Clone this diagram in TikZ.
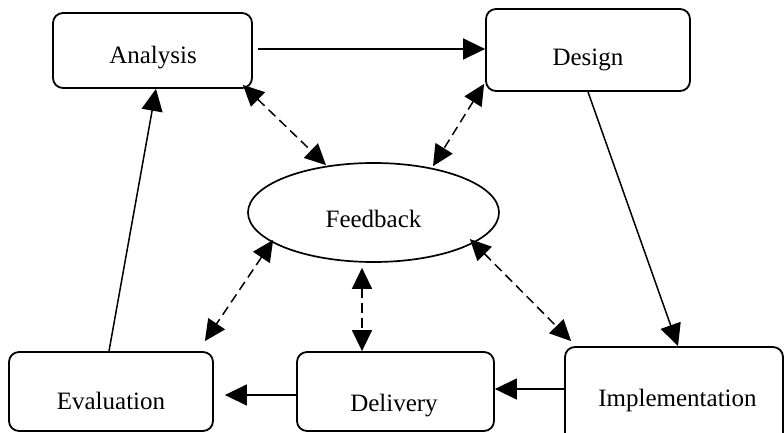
\documentclass[tikz,border=0pt]{standalone}
\usepackage{fontspec}
\setmainfont{Liberation Serif}
\usetikzlibrary{arrows.meta,shapes.geometric}
\begin{document}
\begin{tikzpicture}[x=1pt,y=-1pt,
  stagebox/.style={draw, line width=1.8pt, rounded corners=10pt, inner sep=0pt},
  fbshape/.style={draw, ellipse, line width=1.7pt, inner sep=0pt},
  lbl/.style={font=\fontsize{25}{30}\selectfont, inner sep=0pt, anchor=base},
  arr/.style={line width=1.5pt, -{Triangle[length=22pt,width=21pt]}},
  darr/.style={line width=1.5pt, dash pattern=on 9.5pt off 5.5pt, {Triangle[length=21pt,width=20pt]}-{Triangle[length=21pt,width=20pt]}}
]
\useasboundingbox (0,0) rectangle (784,433);
% boxes
\node[stagebox, minimum width=199pt, minimum height=75pt] (ana) at (152.5,50.5) {};
\node[stagebox, minimum width=204pt, minimum height=82pt] (des) at (588,50) {};
\node[fbshape, minimum width=251pt, minimum height=99pt] (fb) at (373.5,212.5) {};
\node[stagebox, minimum width=204pt, minimum height=79pt] (eva) at (111,391.5) {};
\node[stagebox, minimum width=197pt, minimum height=79pt] (del) at (395.5,391.5) {};
\node[stagebox, minimum width=218pt, minimum height=98pt] (imp) at (674,396) {};
% labels
\node[lbl] (anat) at (153,63.3) {Analysis};
\node[lbl] (dest) at (588,65.7) {Design};
\node[lbl] (fbt) at (373.5,227.3) {Feedback};
\node[lbl] (evat) at (111,409.3) {Evaluation};
\node[lbl] (delt) at (394,411) {Delivery};
\node[lbl] (impt) at (677.5,406.7) {Implementation};
% solid cycle
\draw[arr] ([shift={(5,-1.5)}]ana.east) -- ([shift={(0,-1)}]des.west);
\draw[arr] (des.south) -- ([shift={(4,0)}]imp.north);
\draw[arr] ([shift={(0,-7)}]imp.west) -- ([shift={(0,-2.5)}]del.east);
\draw[arr] ([shift={(0,3.5)}]del.west) -- ([shift={(11,3.5)}]eva.east);
\draw[arr] ([shift={(-2,0)}]eva.north) -- ([shift={(3.5,0)}]ana.south);
% feedback links
\draw[darr] ([shift={(-10,-4)}]ana.south east) -- ([shift={(-47.5,3)}]fb.north);
\draw[darr] ([shift={(-1,-8)}]des.south west) -- ([shift={(59.5,4)}]fb.north);
\draw[darr] ([shift={(26,27.5)}]fb.west) -- ([shift={(-9,-10)}]eva.north east);
\draw[darr] ([shift={(-11.5,5)}]fb.south) -- ([shift={(-33.5,0)}]del.north);
\draw[darr] ([shift={(-30,26.5)}]fb.east) -- ([shift={(7,-5)}]imp.north west);
\end{tikzpicture}
\end{document}
